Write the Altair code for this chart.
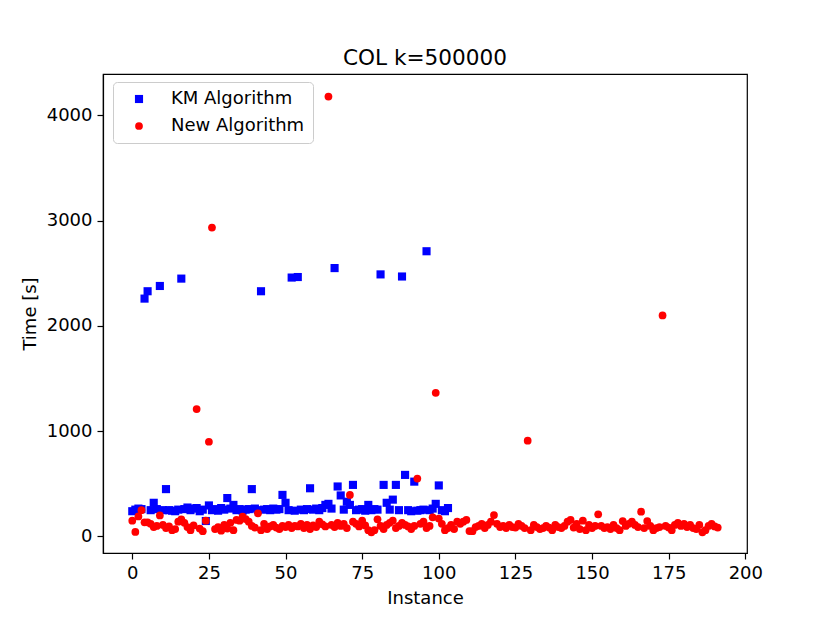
import altair as alt
import pandas as pd

km_time = [240, 255, 265, 260, 2260, 2330, 250, 320, 260, 2380,
           250, 450, 250, 245, 240, 255, 2450, 260, 275, 250,
           265, 270, 240, 255, 147, 295, 250, 260, 245, 270,
           255, 365, 265, 300, 250, 260, 245, 255, 260, 450,
           265, 250, 2330, 255, 260, 250, 265, 255, 260, 395,
           320, 250, 2460, 245, 2465, 255, 250, 260, 458, 255,
           265, 250, 270, 300, 310, 265, 2550, 475, 390, 255,
           330, 300, 490, 250, 255, 260, 245, 300, 250, 260,
           255, 2490, 490, 320, 255, 350, 490, 250, 2470, 585,
           250, 240, 521, 245, 250, 255, 2710, 250, 265, 310,
           485, 250, 240, 270]

new_time = [150, 43, 190, 250, 135, 135, 120, 90, 100, 200,
            110, 80, 95, 60, 70, 140, 163, 130, 90, 60,
            105, 1210, 75, 50, 150, 900, 2935, 70, 90, 55,
            110, 75, 130, 60, 157, 150, 188, 165, 140, 100,
            85, 220, 60, 120, 70, 95, 110, 85, 70, 100,
            90, 110, 80, 100, 95, 120, 80, 110, 70, 105,
            90, 140, 115, 95, 4180, 110, 90, 130, 100, 120,
            80, 395, 140, 120, 95, 150, 105, 60, 40, 60,
            163, 100, 70, 110, 130, 150, 80, 100, 130, 110,
            95, 70, 100, 550, 120, 140, 80, 100, 182, 1365,
            170, 120, 60, 80, 110, 70, 141, 120, 140, 157,
            52, 50, 90, 100, 120, 80, 110, 140, 204, 120,
            90, 100, 80, 110, 90, 85, 120, 100, 80, 910,
            60, 110, 90, 70, 80, 100, 85, 60, 110, 90,
            80, 100, 140, 157, 85, 120, 70, 150, 60, 110,
            80, 100, 210, 100, 80, 90, 70, 110, 80, 60,
            147, 100, 120, 140, 110, 90, 236, 80, 147, 100,
            60, 80, 90, 2100, 100, 85, 60, 110, 130, 100,
            120, 90, 110, 80, 70, 110, 40, 60, 100, 120,
            95, 85]

series_names = ["KM Algorithm", "New Algorithm"]
x_ticks = [0, 25, 50, 75, 100, 125, 150, 175, 200]
y_ticks = [0, 1000, 2000, 3000, 4000]

rows = []
for i, v in enumerate(km_time):
    rows.append({"instance": i, "time": v, "series": series_names[0]})
for i, v in enumerate(new_time):
    rows.append({"instance": i, "time": v, "series": series_names[1]})
df = pd.DataFrame(rows)

FONT = "DejaVu Sans"

chart = alt.Chart(df).mark_point(filled=True, opacity=1, strokeWidth=0).encode(
    x=alt.X("instance:Q", title="Instance",
            scale=alt.Scale(domain=[-9.55, 200.55], nice=False, zero=False),
            axis=alt.Axis(values=x_ticks, grid=False, format="d")),
    y=alt.Y("time:Q", title="Time [s]",
            scale=alt.Scale(domain=[-157, 4394], nice=False, zero=False),
            axis=alt.Axis(values=y_ticks, grid=False, format="d")),
    color=alt.Color("series:N",
                    scale=alt.Scale(domain=series_names, range=["#0000ff", "#ff0000"]),
                    legend=alt.Legend(title=None, orient="none", legendX=10, legendY=8,
                                      fillColor="white", strokeColor="#cccccc",
                                      cornerRadius=4, padding=8, symbolOffset=9,
                                      labelOffset=23, rowPadding=9,
                                      labelFont=FONT, labelFontSize=18,
                                      labelColor="black")),
    shape=alt.Shape("series:N",
                    scale=alt.Scale(domain=series_names, range=["square", "circle"])),
    size=alt.Size("series:N",
                  scale=alt.Scale(domain=series_names, range=[66, 60])),
).properties(
    width=644,
    height=479,
    title=alt.TitleParams("COL k=500000", font=FONT, fontSize=21.6,
                          fontWeight="normal", color="black", offset=4),
    autosize=alt.AutoSizeParams(type="none"),
    padding={"left": 95, "top": 66, "right": 60, "bottom": 62},
).configure_view(
    stroke="black", strokeWidth=1.2
).configure_axis(
    domainColor="black", domainWidth=1.2, tickColor="black", tickWidth=1.2,
    tickSize=6, labelPadding=5, labelFont=FONT, labelFontSize=18,
    labelColor="black", titleFont=FONT, titleFontSize=18,
    titleFontWeight="normal", titleColor="black", titlePadding=7
)

chart.save("out.html", embed_options={"renderer": "svg", "actions": False})
